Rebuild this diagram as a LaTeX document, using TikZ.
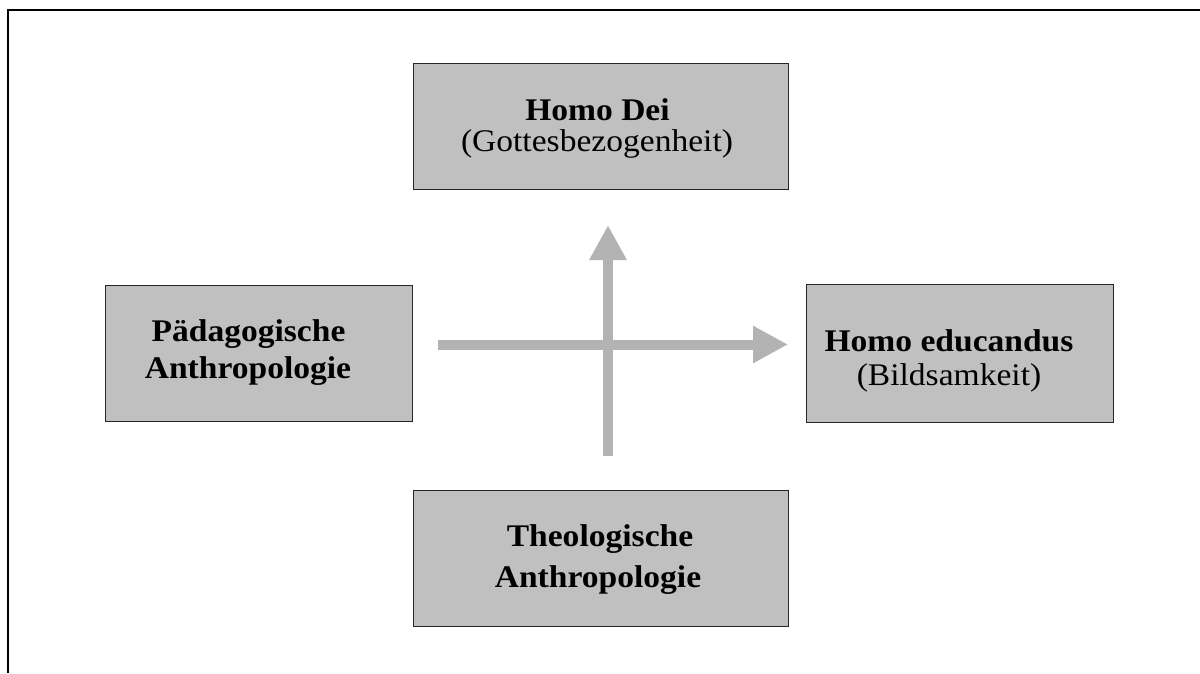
\documentclass[tikz,border=0pt]{standalone}
\usepackage{fontspec}
\setmainfont{Liberation Serif}
\usetikzlibrary{arrows.meta}
\definecolor{boxgray}{HTML}{C0C0C0}
\definecolor{arrowgray}{HTML}{B3B3B3}
\newcommand{\widetext}[1]{\scalebox{1.065}[1]{#1}}
\tikzset{
  box/.style={draw=black!85, line width=1pt, fill=boxgray, rectangle, inner sep=0pt},
  lbl/.style={anchor=base, inner sep=0pt, font=\fontsize{31.5}{36}\selectfont},
  bigarrow/.style={draw=arrowgray, line width=10pt, -{Triangle[length=35pt,width=35pt]}},
  frame/.style={draw=black, line width=2pt}
}
\begin{document}
\begin{tikzpicture}[x=1pt,y=-1pt]
\useasboundingbox (0,0) rectangle (1200,673);
% frame (top and left only)
\coordinate (fa) at (8,673);
\coordinate (fb) at (8,10);
\coordinate (fc) at (1200,10);
\draw[frame] (fa) -- (fb) -- (fc);
% boxes
\node[box, minimum width=375pt, minimum height=126pt] (top) at (600.5,126) {};
\node[box, minimum width=307pt, minimum height=136pt] (left) at (258.5,353) {};
\node[box, minimum width=307pt, minimum height=138pt] (right) at (959.5,353) {};
\node[box, minimum width=375pt, minimum height=136pt] (bottom) at (600.5,558) {};
% arrows
\coordinate (hs) at (438,344.5);
\coordinate (he) at (788,344.5);
\coordinate (vs) at (608,456);
\coordinate (ve) at (608,225);
\draw[bigarrow] (hs) -- (he);
\draw[bigarrow] (vs) -- (ve);
% labels
\node[lbl] (t1) at (597.5,120) {\widetext{\bfseries Homo Dei}};
\node[lbl] (t2) at (597,151.7) {\widetext{(Gottesbezogenheit)}};
\node[lbl] (l1) at (248.5,341.7) {\widetext{\bfseries Pädagogische}};
\node[lbl] (l2) at (248,378.3) {\widetext{\bfseries Anthropologie}};
\node[lbl] (r1) at (949,351.7) {\widetext{\bfseries Homo educandus}};
\node[lbl] (r2) at (949,385) {\widetext{(Bildsamkeit)}};
\node[lbl] (b1) at (600,546) {\widetext{\bfseries Theologische}};
\node[lbl] (b2) at (598,587.3) {\widetext{\bfseries Anthropologie}};
\end{tikzpicture}
\end{document}
